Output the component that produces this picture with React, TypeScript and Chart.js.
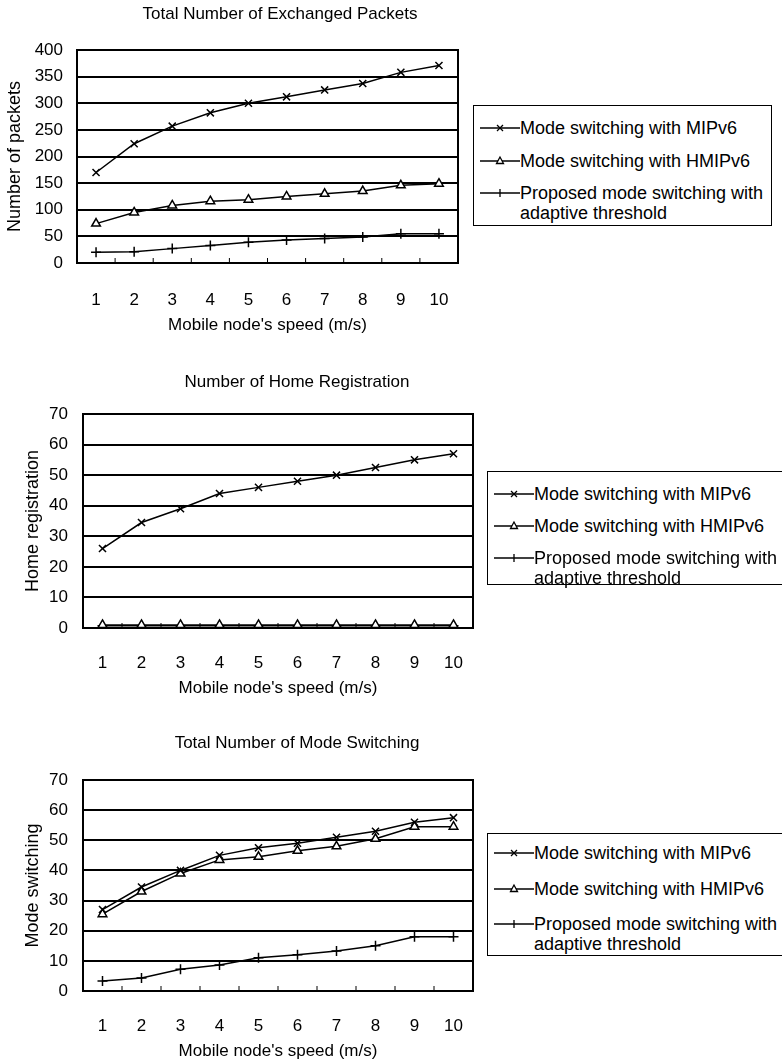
import React, { useEffect, useRef } from 'react';
import { Chart, registerables } from 'chart.js';

Chart.register(...registerables);

const FONT = '"Liberation Sans", Arial, sans-serif';

// ---- data ----
const speeds = ['1', '2', '3', '4', '5', '6', '7', '8', '9', '10'];
const seriesLabels = [
  'Mode switching with MIPv6',
  'Mode switching with HMIPv6',
  'Proposed mode switching with adaptive threshold',
];

const packetsMIPv6 = [170, 224, 257, 282, 300, 312, 325, 337, 358, 371];
const packetsHMIPv6 = [74, 95, 108, 116, 119, 125, 130, 135, 146, 149];
const packetsProposed = [20, 21, 27, 33, 39, 43, 46, 49, 55, 55];

const homeMIPv6 = [26, 34.5, 39, 44, 46, 48, 50, 52.5, 55, 57];
const homeHMIPv6 = [1, 1, 1, 1, 1, 1, 1, 1, 1, 1];
const homeProposed = [0.7, 0.7, 0.7, 0.7, 0.7, 0.7, 0.7, 0.7, 0.7, 0.7];

const modeMIPv6 = [27, 34.5, 40, 45, 47.5, 49, 51, 53, 56, 57.5];
const modeHMIPv6 = [25.5, 33, 39, 43.5, 44.5, 46.5, 48, 50.5, 54.5, 54.5];
const modeProposed = [3.3, 4.3, 7.2, 8.6, 11, 12, 13.3, 15, 18, 18];

const packetTicks = { max: 400, step: 50 };
const countTicks = { max: 70, step: 10 };

type Layout = {
  top: number; // canvas top in page
  W: number;
  H: number;
  plotLeft: number;
  plotRight: number;
  plotTop: number; // relative to canvas
  plotBottom: number;
  titleCenter: number;
  tickCenter: number;
  xTitleCenter: number;
  yTitleCenter: number;
  yTickGap: number;
};

const framePlugin = {
  id: 'frame',
  beforeDatasetsDraw(chart: any) {
    const { ctx, chartArea: a, scales } = chart;
    const x = scales.x;
    ctx.save();
    ctx.strokeStyle = '#000';
    ctx.lineWidth = 2;
    ctx.strokeRect(a.left, a.top, a.right - a.left, a.bottom - a.top);
    ctx.lineWidth = 1;
    ctx.beginPath();
    for (let i = 1; i < x.ticks.length; i++) {
      const px = (x.getPixelForValue(i - 1) + x.getPixelForValue(i)) / 2;
      ctx.moveTo(px, a.bottom);
      ctx.lineTo(px, a.bottom - 5);
    }
    ctx.stroke();
    ctx.restore();
  },
};

function makeConfig(
  title: string,
  yTitle: string,
  values: number[][],
  yt: { max: number; step: number },
  L: Layout
): any {
  const styles = [
    { pointStyle: 'crossRot', bg: '#000' },
    { pointStyle: 'triangle', bg: '#fff' },
    { pointStyle: 'cross', bg: '#000' },
  ];
  return {
    type: 'line',
    data: {
      labels: speeds,
      datasets: values.map((d, i) => ({
        label: seriesLabels[i],
        data: d,
        borderColor: '#000',
        borderWidth: 1.5,
        pointStyle: styles[i].pointStyle,
        pointRadius: 5,
        pointBorderWidth: 1.5,
        pointBorderColor: '#000',
        pointBackgroundColor: styles[i].bg,
        tension: 0,
        xAxisID: 'x',
        yAxisID: 'y',
      })),
    },
    plugins: [framePlugin],
    options: {
      responsive: false,
      animation: false,
      layout: { padding: 0 },
      plugins: {
        legend: { display: false },
        tooltip: { enabled: false },
        title: {
          display: true,
          text: title,
          color: '#000',
          font: { family: FONT, size: 17, weight: 'normal', lineHeight: 1.2 },
          padding: { top: L.titleCenter - 10.2, bottom: L.plotTop - L.titleCenter - 10.2 },
        },
      },
      scales: {
        x: {
          type: 'category',
          offset: true,
          grid: { display: false },
          border: { display: false },
          ticks: {
            color: '#000',
            font: { family: FONT, size: 17, lineHeight: 1.2 },
            padding: L.tickCenter - L.plotBottom - 10.2,
            maxRotation: 0,
            autoSkip: false,
          },
          title: {
            display: true,
            text: "Mobile node's speed (m/s)",
            color: '#000',
            font: { family: FONT, size: 17, lineHeight: 1.2 },
            padding: { top: 0, bottom: Math.max(0, L.H - L.xTitleCenter - 10.2) },
          },
          afterFit: (s: any) => {
            s.height = L.H - L.plotBottom;
          },
        },
        y: {
          position: 'left',
          min: 0,
          max: yt.max,
          grid: { color: '#000', lineWidth: 2, drawTicks: false },
          border: { display: false },
          ticks: {
            stepSize: yt.step,
            color: '#000',
            font: { family: FONT, size: 17, lineHeight: 1.2 },
            padding: L.yTickGap,
          },
          title: {
            display: true,
            text: yTitle,
            color: '#000',
            font: { family: FONT, size: 18, lineHeight: 1.2 },
            padding: { top: L.yTitleCenter - 10.8, bottom: 0 },
          },
          afterFit: (s: any) => {
            s.width = L.plotLeft;
          },
        },
        yR: {
          position: 'right',
          display: true,
          grid: { display: false },
          border: { display: false },
          ticks: { display: false },
          afterFit: (s: any) => {
            s.width = L.W - L.plotRight;
          },
        },
      },
    },
  };
}

function LineChart(props: {
  title: string;
  yTitle: string;
  values: number[][];
  yt: { max: number; step: number };
  L: Layout;
}) {
  const ref = useRef<HTMLCanvasElement>(null);
  useEffect(() => {
    if (!ref.current) return;
    const chart = new Chart(ref.current, makeConfig(props.title, props.yTitle, props.values, props.yt, props.L));
    return () => chart.destroy();
  }, []);
  return (
    <canvas
      ref={ref}
      width={props.L.W}
      height={props.L.H}
      style={{ position: 'absolute', left: 0, top: props.L.top, width: props.L.W, height: props.L.H, display: 'block' }}
    />
  );
}

function Marker({ kind }: { kind: number }) {
  return (
    <svg width={46} height={14} style={{ position: 'absolute', left: 0, top: -7 }}>
      <line x1={4} y1={7} x2={44} y2={7} stroke="#000" strokeWidth={1.3} />
      {kind === 0 && (
        <g stroke="#000" strokeWidth={1.3}>
          <line x1={21} y1={4} x2={27} y2={10} />
          <line x1={21} y1={10} x2={27} y2={4} />
        </g>
      )}
      {kind === 1 && <polygon points="24,3 20.5,9.5 27.5,9.5" fill="#fff" stroke="#000" strokeWidth={1.3} />}
      {kind === 2 && <line x1={24} y1={3} x2={24} y2={11} stroke="#000" strokeWidth={1.3} />}
    </svg>
  );
}

function LegendBox(props: { left: number; top: number; width: number; height: number; rows: number[] }) {
  const { left, top, width, height, rows } = props;
  return (
    <div
      style={{
        position: 'absolute',
        left,
        top,
        width,
        height,
        border: '1.5px solid #000',
        background: '#fff',
        boxSizing: 'border-box',
        fontFamily: FONT,
        fontSize: 18,
        color: '#000',
      }}
    >
      {seriesLabels.map((lab, i) => (
        <div key={i} style={{ position: 'absolute', left: 2, top: rows[i] - top }}>
          <Marker kind={i} />
          <div
            style={{
              position: 'absolute',
              left: 44,
              top: -10,
              lineHeight: '20px',
              whiteSpace: 'pre',
            }}
          >
            {lab.replace(' adaptive', '\nadaptive')}
          </div>
        </div>
      ))}
    </div>
  );
}

const L1: Layout = {
  top: 0, W: 560, H: 340, plotLeft: 77, plotRight: 458, plotTop: 50, plotBottom: 263,
  titleCenter: 14, tickCenter: 292, xTitleCenter: 325, yTitleCenter: 15, yTickGap: 14,
};
const L2: Layout = {
  top: 350, W: 594, H: 350, plotLeft: 83, plotRight: 473, plotTop: 64, plotBottom: 278,
  titleCenter: 32, tickCenter: 305, xTitleCenter: 338, yTitleCenter: 33, yTickGap: 15,
};
const L3: Layout = {
  top: 710, W: 594, H: 352, plotLeft: 83, plotRight: 473, plotTop: 70, plotBottom: 281,
  titleCenter: 33, tickCenter: 308, xTitleCenter: 342, yTitleCenter: 33, yTickGap: 15,
};

export default function App() {
  return (
    <div style={{ position: 'absolute', left: 0, top: 0, width: 782, height: 1062, overflow: 'hidden', background: '#fff' }}>
      <LineChart title="Total Number of Exchanged Packets" yTitle="Number of packets" values={[packetsMIPv6, packetsHMIPv6, packetsProposed]} yt={packetTicks} L={L1} />
      <LineChart title="Number of Home Registration" yTitle="Home registration" values={[homeMIPv6, homeHMIPv6, homeProposed]} yt={countTicks} L={L2} />
      <LineChart title="Total Number of Mode Switching" yTitle="Mode switching" values={[modeMIPv6, modeHMIPv6, modeProposed]} yt={countTicks} L={L3} />
      <LegendBox left={473} top={105} width={299} height={121} rows={[127, 160, 192]} />
      <LegendBox left={487} top={471} width={300} height={114} rows={[493, 525, 557]} />
      <LegendBox left={487} top={833} width={300} height={123} rows={[852, 888, 923]} />
    </div>
  );
}
